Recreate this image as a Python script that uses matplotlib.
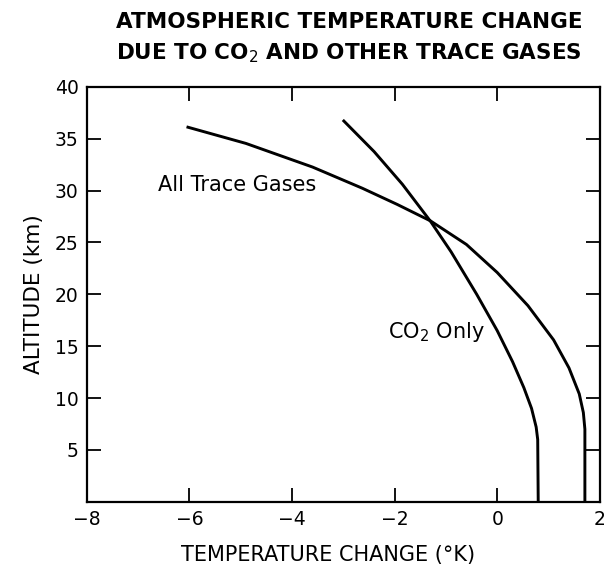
import matplotlib.pyplot as plt
import numpy as np

# values (temperature change in K, altitude in km)
temp_all = [-6.03, -4.90, -3.60, -2.63, -1.95, -1.30, -0.60, 0.00, 0.60, 1.10, 1.40, 1.60, 1.68, 1.71, 1.71]
alt_all = [36.1, 34.54, 32.26, 30.22, 28.66, 27.07, 24.8, 22.1, 18.9, 15.6, 12.9, 10.4, 8.6, 7.0, 0]

temp_co2 = [-2.99, -2.40, -1.85, -1.30, -0.90, -0.40, 0.00, 0.30, 0.52, 0.67, 0.76, 0.79, 0.80]
alt_co2 = [36.7, 33.75, 30.61, 27.03, 24.1, 20.0, 16.5, 13.5, 11.0, 9.0, 7.2, 6.0, 0]

xticks = [-8, -6, -4, -2, 0, 2]
yticks = [5, 10, 15, 20, 25, 30, 35, 40]

fig = plt.figure(figsize=(6.12, 5.67), dpi=100)
ax = fig.add_axes([0.142, 0.115, 0.838, 0.732])

ax.plot(temp_all, alt_all, color='black', lw=2.1, solid_joinstyle='round')
ax.plot(temp_co2, alt_co2, color='black', lw=2.1, solid_joinstyle='round')

ax.text(-6.62, 30.5, 'All Trace Gases', fontsize=15, va='center', ha='left')
ax.text(-2.12, 16.4, r'CO$_2$ Only', fontsize=15, va='center', ha='left')

ax.set_xlim(-8, 2)
ax.set_ylim(0, 40)
ax.set_xticks(xticks)
ax.set_yticks(yticks)
ax.tick_params(direction='in', length=10, width=1.3, top=True, right=True,
               labelsize=13.5, pad=6)
for s in ax.spines.values():
    s.set_linewidth(1.6)

ax.set_xlabel('TEMPERATURE CHANGE (°K)', fontsize=15, labelpad=10)
ax.xaxis.set_label_coords(0.47, -0.105)
ax.set_ylabel('ALTITUDE (km)', fontsize=15.5, labelpad=8)

fig.text(0.57, 0.961, 'ATMOSPHERIC TEMPERATURE CHANGE', fontsize=15.5,
         fontweight='bold', ha='center', va='center')
fig.text(0.57, 0.907, r'DUE TO CO$_2$ AND OTHER TRACE GASES', fontsize=15.5,
         fontweight='bold', ha='center', va='center')

plt.savefig('out.png')
